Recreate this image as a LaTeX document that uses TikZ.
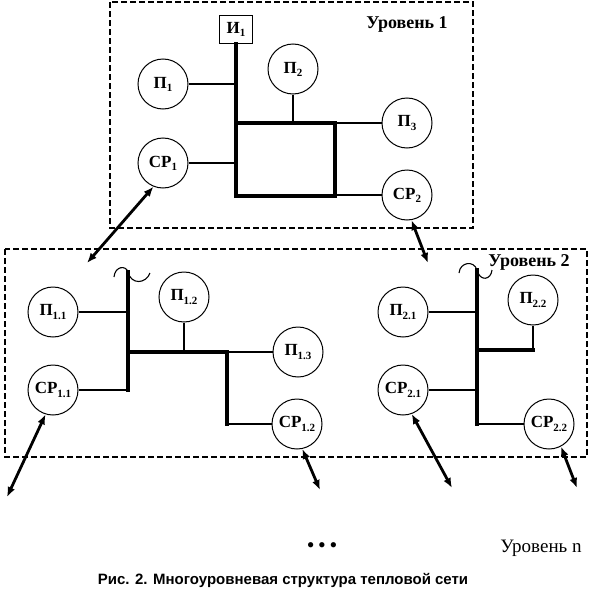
\documentclass[tikz,border=0pt]{standalone}
\usepackage{fontspec}
\setmainfont{Liberation Serif}
\newfontfamily\capfont{Liberation Sans}
\usetikzlibrary{arrows.meta}
\newcommand{\ix}[1]{\raisebox{-0.4ex}{\fontsize{11}{11}\selectfont #1}}
\tikzset{
  circ/.style={circle,draw,line width=1pt,minimum size=50pt,inner sep=0pt,font=\fontsize{17}{17}\selectfont\bfseries},
  srcbox/.style={draw,line width=1pt,minimum width=33pt,minimum height=28pt,inner sep=0pt,font=\fontsize{17}{17}\selectfont\bfseries},
  bus/.style={line width=3.6pt,line cap=rect},
  link/.style={line width=1.2pt},
  dbl/.style={line width=2.8pt,{Latex[length=10pt,width=8pt]}-{Latex[length=10pt,width=8pt]}},
  frame/.style={draw,line width=1.6pt,dash pattern=on 6pt off 3pt},
  lvl/.style={font=\fontsize{19}{19}\selectfont},
  lvlb/.style={font=\fontsize{18}{18}\selectfont\bfseries},
}
\begin{document}
\begin{tikzpicture}[x=1pt,y=-1pt]
\useasboundingbox (0,0) rectangle (589,597);
% frames
\draw[frame] (110,2) rectangle (473,228);
\draw[frame] (5,249) rectangle (587,457);

% ---------- Level 1 ----------
\node[srcbox] (i1) at (236,29) {И\ix{1}};
\node[circ] (p1) at (163,84) {П\ix{1}};
\node[circ] (p2) at (293,69) {П\ix{2}};
\node[circ] (p3) at (407,123) {П\ix{3}};
\node[circ] (cp1) at (163,163) {СР\ix{1}};
\node[circ] (cp2) at (407,195) {СР\ix{2}};
\node[lvlb] (l1) at (407,24) {Уровень 1};
\coordinate (ta) at (236,123);
\coordinate (tb) at (236,196);
\coordinate (tc) at (335,196);
\coordinate (td) at (335,123);
\draw[bus] (i1.south) -- (tb) -- (tc) -- (td) -- (ta);
\draw[link] (p1) -- (p1 -| ta);
\draw[link] (cp1) -- (cp1 -| ta);
\draw[link] (p2) -- (p2 |- ta);
\draw[link] (p3) -- (p3 -| td);
\draw[link] (cp2) -- (cp2 -| tc);

% ---------- Level 2, left ----------
\node[circ] (p11) at (53,312) {П\ix{1.1}};
\node[circ] (cp11) at (53,390) {СР\ix{1.1}};
\node[circ] (p12) at (184,297) {П\ix{1.2}};
\node[circ] (p13) at (298,352) {П\ix{1.3}};
\node[circ] (cp12) at (297,424) {СР\ix{1.2}};
\coordinate (lt) at (128,272);
\coordinate (lb) at (128,390);
\coordinate (lh) at (128,352);
\coordinate (lj) at (227,352);
\coordinate (lk) at (227,424);
\draw[bus] (lt) -- (lb);
\draw[bus] (lh) -- (lj) -- (lk);
\draw[link] (p11) -- (p11 -| lt);
\draw[link] (cp11) -- (lb);
\draw[link] (p12) -- (p12 |- lj);
\draw[link] (lj) -- (p13);
\draw[link] (lk) -- (cp12);
\draw[line width=1.1pt] (114,277) .. controls (115,266) and (126,265) .. (lt) .. controls (131,285) and (146,284) .. (150,273);

% ---------- Level 2, right ----------
\node[circ] (p21) at (403,312) {П\ix{2.1}};
\node[circ] (cp21) at (403,390) {СР\ix{2.1}};
\node[circ] (p22) at (533,300) {П\ix{2.2}};
\node[circ] (cp22) at (549,424) {СР\ix{2.2}};
\node[lvlb] (l2) at (529,262) {Уровень 2};
\coordinate (rt) at (477,270);
\coordinate (rb) at (477,424);
\coordinate (rh) at (477,350);
\coordinate (rj) at (533,350);
\draw[bus] (rt) -- (rb);
\draw[bus] (rh) -- (rj);
\draw[link] (rj) -- (p22);
\draw[link] (p21) -- (p21 -| rt);
\draw[link] (cp21) -- (cp21 -| rt);
\draw[link] (rb) -- (cp22);
\draw[line width=1.1pt] (459,273) .. controls (460,262) and (474,260) .. (rt) .. controls (480,282) and (491,280) .. (492,270);

% ---------- inter-level links ----------
\coordinate (e1) at (87,263);
\coordinate (e2) at (428,263);
\coordinate (e3) at (7,497);
\coordinate (e4) at (320,490);
\coordinate (e5) at (452,488);
\coordinate (e6) at (577,488);
\draw[dbl] (cp1.248) -- (e1);
\draw[dbl] (cp2.280) -- (e2);
\draw[dbl] (cp11.253) -- (e3);
\draw[dbl] (cp12.282) -- (e4);
\draw[dbl] (cp21.290) -- (e5);
\draw[dbl] (cp22.298) -- (e6);

% ---------- bottom ----------
\node[font=\fontsize{22}{22}\selectfont] (dots) at (322,548) {•\,•\,•};
\node[lvl] (ln) at (541,548) {Уровень n};
\node[font=\capfont\fontsize{15}{15}\selectfont\bfseries] (cap) at (283,580) {Рис. 2. Многоуровневая структура тепловой сети};
\end{tikzpicture}
\end{document}
